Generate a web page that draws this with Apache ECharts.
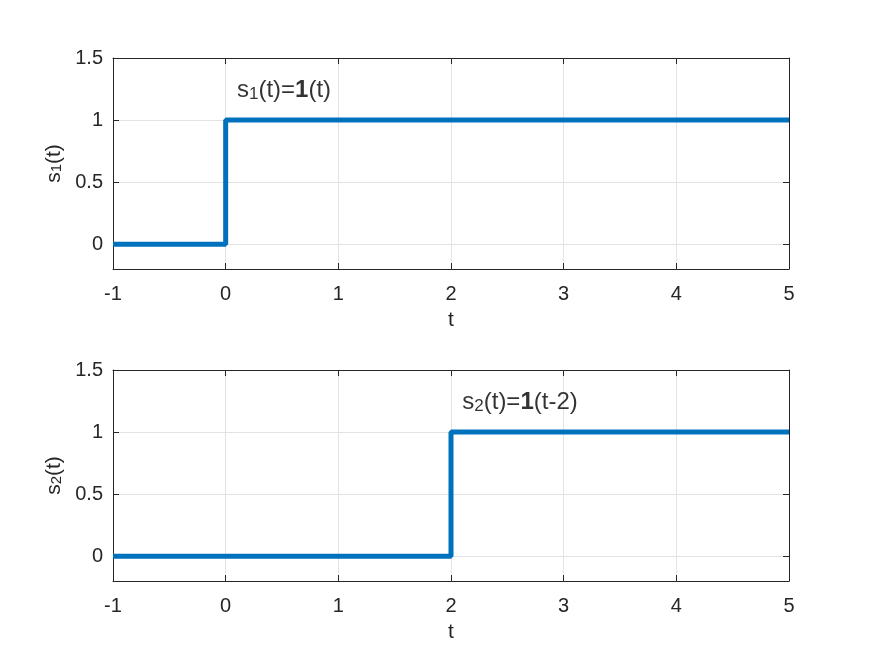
<!DOCTYPE html>
<html><head><meta charset="utf-8">
<script src="https://cdn.jsdelivr.net/npm/echarts@6/dist/echarts.min.js"></script>
<style>html,body{margin:0;padding:0;background:#fff}#c{width:872px;height:654px}</style>
</head><body><div id="c"></div>
<script>
const t1 = [-1, 0, 0, 5];
const s1 = [0, 0, 1, 1];
const t2 = [-1, 2, 2, 5];
const s2 = [0, 0, 1, 1];
const xTicks = [-1, 0, 1, 2, 3, 4, 5];
const yTicks = [0, 0.5, 1, 1.5];
const note1 = [0.1, 1.25];
const note2 = [2.1, 1.25];

const FONT = '"Liberation Sans", Arial, Helvetica, sans-serif';
const TXT = '#262626';
const chart = echarts.init(document.getElementById('c'), null, {renderer: 'canvas'});

const grids = [
  {left: 113, right: 83, top: 58, height: 211},
  {left: 113, right: 83, top: 370, height: 211}
];
function xAx(i, pos) {
  const bottom = pos === 'bottom';
  return {
    type: 'value', gridIndex: i, position: pos, min: -1, max: 5, interval: 1,
    name: bottom ? 't' : '', nameLocation: 'middle', nameGap: 41,
    nameTextStyle: {color: TXT, fontSize: 21, fontFamily: FONT},
    axisLine: {show: true, onZero: false, lineStyle: {color: TXT, width: 1}},
    axisTick: {show: true, inside: true, length: 6, customValues: xTicks, lineStyle: {color: TXT}},
    axisLabel: {show: bottom, color: TXT, fontSize: 20, fontFamily: FONT, margin: 15,
      customValues: xTicks, formatter: v => String(v)},
    splitLine: {show: bottom, lineStyle: {color: '#e3e3e3', width: 1}}
  };
}
function yAx(i, pos, k) {
  const left = pos === 'left';
  return {
    type: 'value', gridIndex: i, position: pos, min: -0.2, max: 1.5,
    name: left ? '{a|s}{sub|' + k + '}{a|(t)}' : '', nameLocation: 'middle', nameGap: 40,
    nameRotate: 90,
    nameTextStyle: {color: TXT, fontSize: 21, fontFamily: FONT,
      rich: {a: {fontSize: 21, fontFamily: FONT, color: TXT},
             sub: {fontSize: 15, fontFamily: FONT, color: TXT, padding: [6, 0, 0, 0], verticalAlign: 'bottom'}}},
    axisLine: {show: true, onZero: false, lineStyle: {color: TXT, width: 1}},
    axisTick: {show: true, inside: true, length: 6, customValues: yTicks, lineStyle: {color: TXT}},
    axisLabel: {show: left, color: TXT, fontSize: 20, fontFamily: FONT, margin: 10,
      customValues: yTicks, formatter: v => String(v)},
    splitLine: {show: left, lineStyle: {color: '#e3e3e3', width: 1}}
  };
}
function zip(a, b) { return a.map((v, i) => [v, b[i]]); }
const richNote = {
  a: {fontSize: 24, fontFamily: FONT, color: '#000'},
  b: {fontSize: 24, fontFamily: FONT, color: '#000', fontWeight: 'bold'},
  sub: {fontSize: 17, fontFamily: FONT, color: '#000', padding: [8, 0, 0, 0], verticalAlign: 'bottom'}
};
function note(i, p, txt) {
  return {
    type: 'scatter', xAxisIndex: i * 2, yAxisIndex: i * 2, data: [p], symbolSize: 0,
    silent: true, z: 5,
    label: {show: true, position: 'right', distance: 0, offset: [0, 1], formatter: txt, rich: richNote}
  };
}
chart.setOption({
  animation: false,
  grid: grids,
  xAxis: [xAx(0, 'bottom'), xAx(0, 'top'), xAx(1, 'bottom'), xAx(1, 'top')],
  yAxis: [yAx(0, 'left', 1), yAx(0, 'right', 1), yAx(1, 'left', 2), yAx(1, 'right', 2)],
  series: [
    {type: 'line', xAxisIndex: 0, yAxisIndex: 0, data: zip(t1, s1), showSymbol: false,
     lineStyle: {color: '#0072BD', width: 5}, z: 3},
    {type: 'line', xAxisIndex: 2, yAxisIndex: 2, data: zip(t2, s2), showSymbol: false,
     lineStyle: {color: '#0072BD', width: 5}, z: 3},
    note(0, note1, '{a|s}{sub|1}{a|(t)=}{b|1}{a|(t)}'),
    note(1, note2, '{a|s}{sub|2}{a|(t)=}{b|1}{a|(t-2)}')
  ]
});
</script></body></html>
